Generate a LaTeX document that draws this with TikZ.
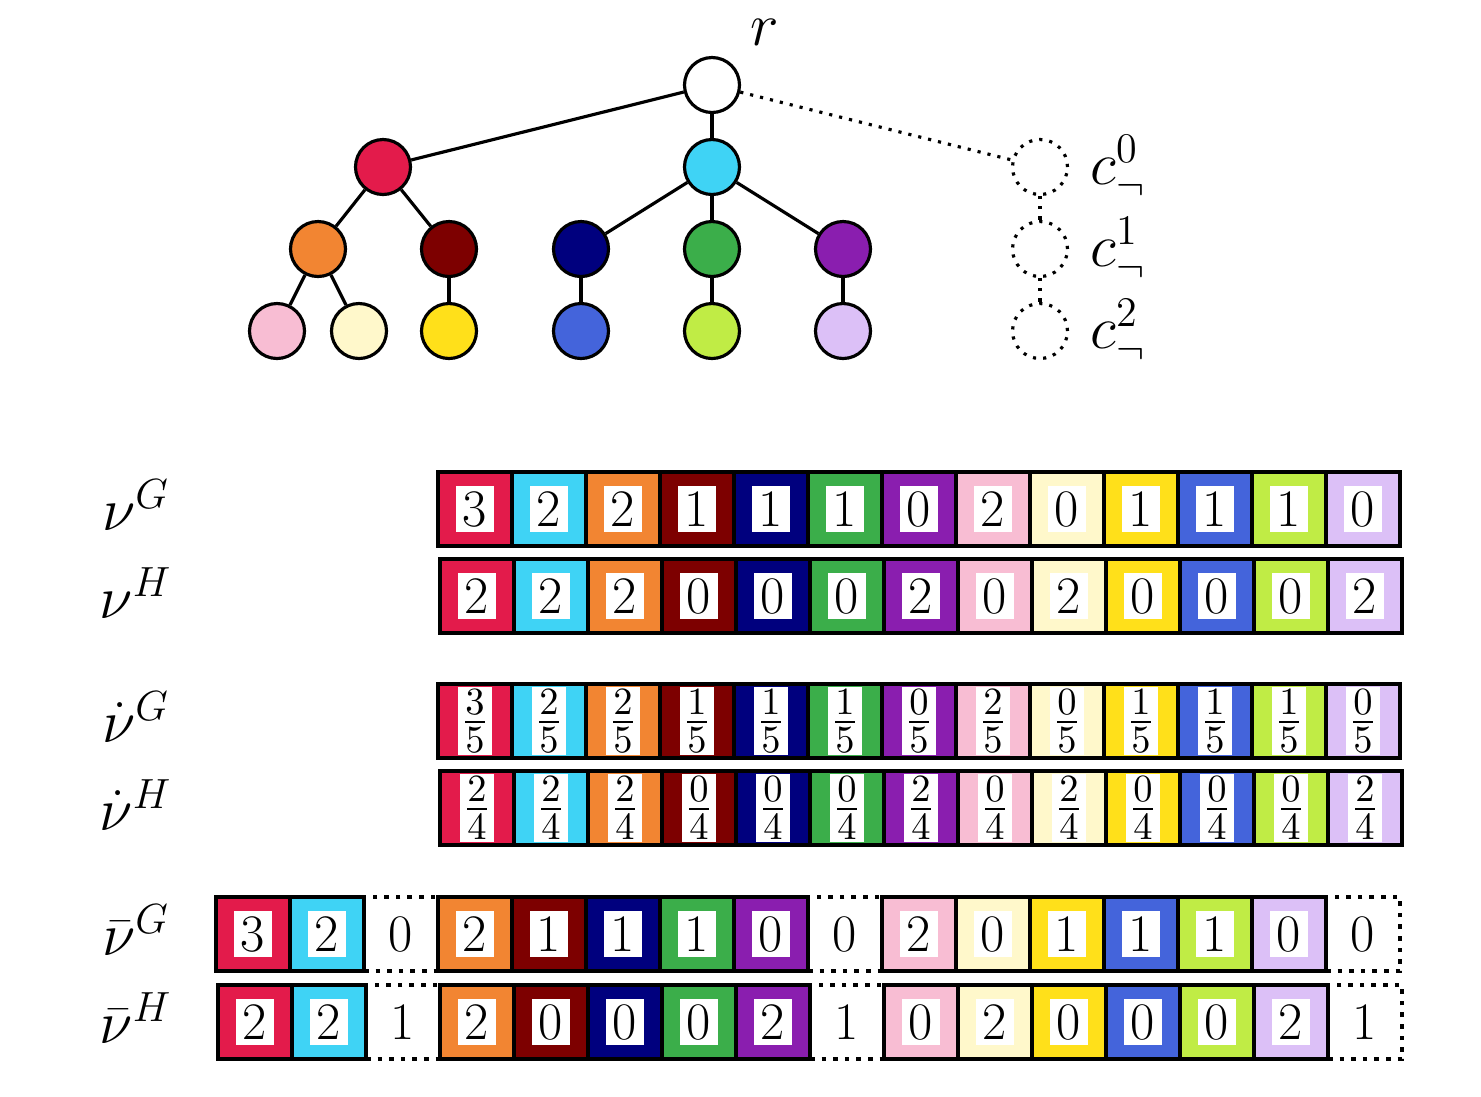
\documentclass[tikz,border=0pt]{standalone}
\usepackage{amsmath}
\definecolor{cR}{HTML}{E31B4B}\definecolor{cC}{HTML}{3FD3F5}\definecolor{cO}{HTML}{F28532}
\definecolor{cD}{HTML}{7D0000}\definecolor{cN}{HTML}{00007E}\definecolor{cG}{HTML}{3BAE4A}
\definecolor{cP}{HTML}{8A1EAF}\definecolor{cK}{HTML}{F8BDD3}\definecolor{cL}{HTML}{FFF8CB}
\definecolor{cY}{HTML}{FFE01A}\definecolor{cB}{HTML}{4464DB}\definecolor{cM}{HTML}{C0EC45}
\definecolor{cV}{HTML}{DCC0F7}
\tikzset{
 tn/.style={circle,draw,line width=0.9pt,minimum size=0.55cm,inner sep=0pt},
 dn/.style={circle,draw,dotted,line width=0.9pt,minimum size=0.55cm,inner sep=0pt},
 cell/.style={draw,line width=1.3pt,minimum size=0.74cm,inner sep=0pt},
 dcell/.style={draw,dotted,line width=1.3pt,minimum size=0.74cm,inner sep=0pt,font=\fontsize{15}{18}\selectfont},
 num/.style={fill=white,inner xsep=2pt,inner ysep=1.5pt,font=\fontsize{15}{18}\selectfont},
 lab/.style={font=\fontsize{17}{20}\selectfont},
 edge/.style={line width=0.9pt}
}
\begin{document}
\begin{tikzpicture}
\useasboundingbox (0,0) rectangle (14.81,-10.96);
% tree
\node[tn] (r) at (7.12,-0.85) {};
\node[lab] (rl) at (7.65,-0.32) {$r$};
\node[tn,fill=cR] (a) at (3.83,-1.67) {};
\node[tn,fill=cC] (b) at (7.12,-1.67) {};
\node[tn,fill=cO] (a1) at (3.18,-2.49) {};
\node[tn,fill=cD] (a2) at (4.49,-2.49) {};
\node[tn,fill=cN] (b1) at (5.81,-2.49) {};
\node[tn,fill=cG] (b2) at (7.12,-2.49) {};
\node[tn,fill=cP] (b3) at (8.43,-2.49) {};
\node[tn,fill=cK] (a11) at (2.77,-3.31) {};
\node[tn,fill=cL] (a12) at (3.59,-3.31) {};
\node[tn,fill=cY] (a21) at (4.49,-3.31) {};
\node[tn,fill=cB] (b11) at (5.81,-3.31) {};
\node[tn,fill=cM] (b21) at (7.12,-3.31) {};
\node[tn,fill=cV] (b31) at (8.43,-3.31) {};
\foreach \u/\v in {r/a,r/b,a/a1,a/a2,b/b1,b/b2,b/b3,a1/a11,a1/a12,a2/a21,b1/b11,b2/b21,b3/b31}
  \draw[edge] (\u) -- (\v);
\node[dn] (d0) at (10.40,-1.67) {};
\node[dn] (d1) at (10.40,-2.49) {};
\node[dn] (d2) at (10.40,-3.31) {};
\draw[edge,dotted] (r) -- (d0);
\draw[edge,dotted] (d0) -- (d1);
\draw[edge,dotted] (d1) -- (d2);
\foreach \k/\y in {0/1.67,1/2.49,2/3.31}
  \node[lab,anchor=west] (cl\k) at (10.78,-\y) {$c^{\k}_{\neg}$};
% row labels
\node[lab] (l1) at (1.36,-5.05) {$\nu^G$};
\node[lab] (l2) at (1.36,-5.93) {$\nu^H$};
\node[lab] (l3) at (1.36,-7.17) {$\dot\nu^G$};
\node[lab] (l4) at (1.36,-8.05) {$\dot\nu^H$};
\node[lab] (l5) at (1.36,-9.30) {$\bar\nu^G$};
\node[lab] (l6) at (1.36,-10.18) {$\bar\nu^H$};
% nu rows
\foreach \c/\v [count=\i from 0] in {cR/3,cC/2,cO/2,cD/1,cN/1,cG/1,cP/0,cK/2,cL/0,cY/1,cB/1,cM/1,cV/0}{
  \node[cell,fill=\c] (g\i) at ({4.75+0.74*\i},-5.09) {};
  \node[num] at (g\i) {\v};}
\foreach \c/\v [count=\i from 0] in {cR/2,cC/2,cO/2,cD/0,cN/0,cG/0,cP/2,cK/0,cL/2,cY/0,cB/0,cM/0,cV/2}{
  \node[cell,fill=\c] (h\i) at ({4.77+0.74*\i},-5.96) {};
  \node[num] at (h\i) {\v};}
\foreach \c/\v [count=\i from 0] in {cR/3,cC/2,cO/2,cD/1,cN/1,cG/1,cP/0,cK/2,cL/0,cY/1,cB/1,cM/1,cV/0}{
  \node[cell,fill=\c] (dg\i) at ({4.75+0.74*\i},-7.21) {};
  \node[num,inner sep=0.8pt] at (dg\i) {$\frac{\v}{5}$};}
\foreach \c/\v [count=\i from 0] in {cR/2,cC/2,cO/2,cD/0,cN/0,cG/0,cP/2,cK/0,cL/2,cY/0,cB/0,cM/0,cV/2}{
  \node[cell,fill=\c] (dh\i) at ({4.77+0.74*\i},-8.08) {};
  \node[num,inner sep=0.8pt] at (dh\i) {$\frac{\v}{4}$};}
% bar rows
\foreach \x/\c/\v [count=\i] in {2.53/cR/3,3.27/cC/2,4.75/cO/2,5.49/cD/1,6.23/cN/1,6.97/cG/1,7.71/cP/0,9.19/cK/2,9.93/cL/0,10.67/cY/1,11.41/cB/1,12.15/cM/1,12.89/cV/0}{
  \node[cell,fill=\c] (bg\i) at (\x,-9.34) {};
  \node[num] at (bg\i) {\v};}
\foreach \x/\v [count=\i] in {4.01/0,8.45/0,13.63/0}
  \node[dcell] (bgd\i) at (\x,-9.34) {\v};
\foreach \x/\c/\v [count=\i] in {2.55/cR/2,3.29/cC/2,4.77/cO/2,5.51/cD/0,6.25/cN/0,6.99/cG/0,7.73/cP/2,9.21/cK/0,9.95/cL/2,10.69/cY/0,11.43/cB/0,12.17/cM/0,12.91/cV/2}{
  \node[cell,fill=\c] (bh\i) at (\x,-10.22) {};
  \node[num] at (bh\i) {\v};}
\foreach \x/\v [count=\i] in {4.03/1,8.47/1,13.65/1}
  \node[dcell] (bhd\i) at (\x,-10.22) {\v};
\end{tikzpicture}
\end{document}
